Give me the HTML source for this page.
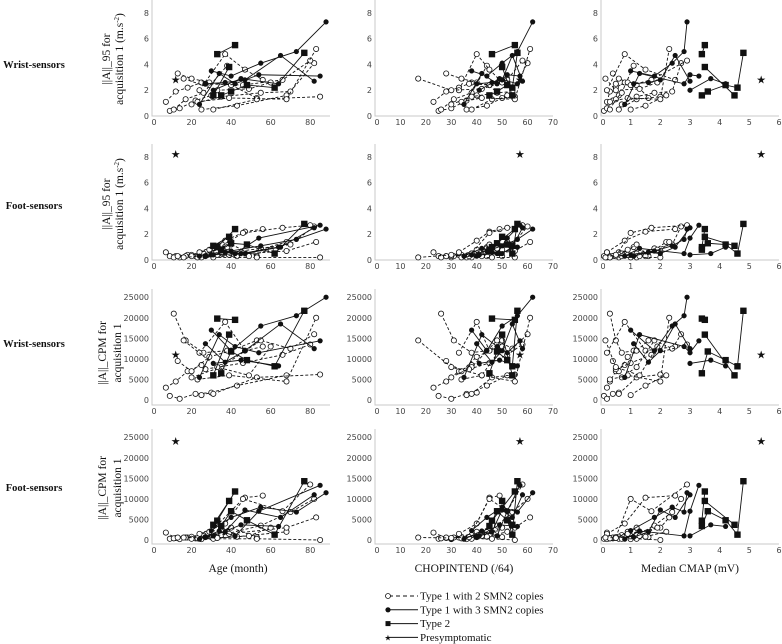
<!DOCTYPE html>
<html><head><meta charset="utf-8"><style>
body{margin:0;background:#fff;width:782px;height:644px;overflow:hidden}
svg{display:block}
.tk{font-family:"DejaVu Sans","Liberation Sans",sans-serif;font-size:8px;fill:#444}
.ser{font-family:"Liberation Serif",serif;fill:#111}
</style></head><body>
<svg id="c" width="782" height="644" viewBox="0 0 782 644" xmlns="http://www.w3.org/2000/svg"></svg>
<script>
// ---- data: one record per patient, visits in order ----
const types=['t1a','t1a','t1a','t1a','t1a','t1a','t1a','t1a','t1a','t1a','t1a','t1b','t1b','t1b','t1b','t2','t2','t2','pre'];
const age=[[7,12,18,25],[9,14,22,30],[11,17,26,38],[13,20,29,40,53],[24,37,47,56],[25,43,68],[31,53,85],[20,35,55,70,82],[27,46,66,80],[23,39,68,83],[16,33,49,60],
[30,40,55,73,88],[27,37,47,65,82],[24,34,42,54,85],[31,45,64],[33,42],[39,31],[35,40,48,62,77],[12]];
const chop=[[23,28,33,38],[25,30,36,40],[26,31,38,44],[28,34,40,45,50],[33,40,45,49],[36,44,52],[38,46,55],[30,38,48,54,60],[37,45,52,58],[34,42,55,61],[17,30,42,50],
[38,44,50,56,62],[40,46,50,54,58],[35,42,48,52,57],[41,49,56],[46,55],[50,54],[45,48,52,54,56],[57]];
const cmap=[[0.2,0.3,0.5,0.8],[0.1,0.2,0.4,0.6],[0.3,0.5,0.7,1.1],[0.4,0.6,0.9,1.2,1.6],[0.2,0.8,1.5,2.5],[1.0,1.5,2.2],[0.6,1.2,2.0],[0.7,1.2,1.8,2.4,2.7],[0.5,1.0,1.7,2.9],[0.3,0.9,2.0,2.3],[0.15,0.5,1.3,1.9],
[1.0,1.8,2.4,2.8,2.9],[1.1,1.6,2.0,2.5,3.0],[0.8,1.3,2.8,3.0,3.3],[3.0,3.7,4.2],[3.4,3.5],[3.5,4.5],[3.4,3.6,4.2,4.6,4.8],[5.4]];
const wrist95=[[1.1,1.9,2.2,2.6],[0.4,0.6,1.2,1.6],[0.5,1.3,1.8,3.9],[3.3,2.9,2.6,2.4,1.4],[2.0,4.8,3.6,2.8],[0.5,0.8,1.6],[0.5,1.3,1.5],[0.9,1.5,1.8,1.9,4.1],[2.5,2.4,2.8,4.3],[1.1,1.4,1.3,5.2],[2.9,2.0,2.1,2.6],
[3.5,3.1,4.1,5.0,7.3],[2.5,2.6,2.8,4.7,2.7],[0.9,3.3,2.5,3.2,3.1],[2.0,2.9,2.5],[4.8,5.5],[3.8,1.6],[1.6,1.9,2.4,2.2,4.9],[2.8]];
const foot95=[[0.6,0.3,0.4,0.5],[0.3,0.2,0.3,0.6],[0.2,0.3,0.5,1.0],[0.3,0.4,0.8,1.2,0.3],[0.6,1.5,2.2,2.4],[0.2,0.3,1.4],[0.2,0.2,0.2],[0.3,0.5,0.9,1.2,2.6],[0.3,2.1,2.5,2.7],[0.2,0.4,0.7,1.4],[0.2,0.4,0.3,0.8],
[0.4,0.7,1.1,1.6,2.4],[0.3,0.6,0.5,1.0,2.5],[0.3,0.9,0.5,1.7,2.7],[0.4,0.5,1.0],[1.0,2.4],[1.8,1.1],[0.8,1.3,1.2,0.5,2.8],[8.2]];
const wristCPM=[[3000,4500,7000,8500],[1000,300,1500,1800],[21000,14500,11500,12000],[9500,7000,10500,12000,14500],[11500,19000,12000,13000],[1200,3500,6000],[1500,5500,6200],[5500,8000,14500,12500,16000],[7500,9000,11000,13500],[5000,6000,4500,20000],[14500,8000,6000,13000],
[17000,12000,18000,20500,25000],[13700,9200,12000,18500,12500],[5500,15900,13000,11500,14400],[8900,9700,8300],[19800,19500],[15900,6000],[6500,11800,9700,8200,21700],[11000]];
const footCPM=[[1800,500,600,800],[300,200,400,700],[400,600,1200,2000],[600,800,2000,3000,700],[1500,4000,10300,10800],[200,800,2000],[300,300,0],[300,1200,3500,6800,10000],[700,10000,7000,13500],[400,1500,3000,5500],[600,500,1000,3000],
[2300,5500,8000,6800,11500],[700,2000,7300,5500,11000],[200,2200,1000,7000,13300],[1000,3700,3300],[4700,11800],[9500,3700],[3400,7000,4800,1300,14300],[24000]];
const xTicksAge=[0,20,40,60,80], xTicksChop=[0,10,20,30,40,50,60,70], xTicksCmap=[0,1,2,3,4,5,6];
const yTicksA=[0,2,4,6,8], yTicksC=[0,5000,10000,15000,20000,25000];

const S=document.getElementById('c'), NS='http://www.w3.org/2000/svg';
function el(t,a,p){const e=document.createElementNS(NS,t);for(const k in a)e.setAttribute(k,a[k]);(p||S).appendChild(e);return e;}
const cols=[{x:age,ticks:xTicksAge,x0:152,x1:330,min:0,max:90,name:'age'},
 {x:chop,ticks:xTicksChop,x0:375,x1:553,min:0,max:70,name:'chopintend'},
 {x:cmap,ticks:xTicksCmap,x0:601,x1:779,min:0,max:6,name:'cmap'}];
const rows=[{y:wrist95,ticks:yTicksA,zero:116,top:0,min:0,max:9,name:'wrist-95'},
 {y:foot95,ticks:yTicksA,zero:260,top:144,min:0,max:9,name:'foot-95'},
 {y:wristCPM,ticks:yTicksC,zero:400,top:289,min:0,max:27000,bot:405,name:'wrist-cpm'},
 {y:footCPM,ticks:yTicksC,zero:540,top:429,min:0,max:27000,bot:544,name:'foot-cpm'}];
rows.forEach((r,ri)=>{cols.forEach((c,ci)=>{
 const g=el('g',{});
 
 
 const X=v=>c.x0+(v-c.min)/(c.max-c.min)*(c.x1-c.x0);
 const Y=v=>r.zero-(v-r.min)/(r.max-r.min)*(r.zero-r.top);
 const bot=r.bot||r.zero;
 const ax=el('path',{d:`M${c.x0} ${r.top}V${bot}H${c.x1}`,fill:'none',stroke:'#c8c8c8','stroke-width':1},g);
  
 r.ticks.forEach(t=>{const tx=el('text',{x:c.x0-3,y:Y(t)+3,'text-anchor':'end',class:'tk'},g);tx.textContent=t;
  });
 c.ticks.forEach(t=>{const tx=el('text',{x:X(t)+(t===0?2:0),y:bot+9,'text-anchor':'middle',class:'tk'},g);tx.textContent=t;
  });
 for(let p=0;p<types.length;p++){
  const xs=c.x[p], ys=r.y[p], ty=types[p];
  const pts=xs.map((v,i)=>[X(v),Y(ys[i])]);
  if(pts.length>1){const ln=el('polyline',{points:pts.map(q=>q.join(',')).join(' '),fill:'none',stroke:'#111','stroke-width':0.9,'stroke-dasharray':ty==='t1a'?'3,2':'none'},g);
   }
  pts.forEach(q=>{let m;
   if(ty==='t1a')m=el('circle',{cx:q[0],cy:q[1],r:2.6,fill:'#fff',stroke:'#111','stroke-width':0.8},g);
   else if(ty==='t1b')m=el('circle',{cx:q[0],cy:q[1],r:2.6,fill:'#111'},g);
   else if(ty==='t2')m=el('rect',{x:q[0]-3.2,y:q[1]-3.2,width:6.4,height:6.4,fill:'#111'},g);
   else{m=el('text',{x:q[0],y:q[1]+3.5,'text-anchor':'middle','font-size':11,fill:'#111'},g);m.textContent='★';}
   });
 }
});});
// y-axis titles
[['||A||_95 for','acquisition 1 (m.s',true,59,110,123],['||A||_95 for','acquisition 1 (m.s',true,204,110,123],['||A||_CPM for','acquisition 1',false,353,106,121],['||A||_CPM for','acquisition 1',false,488,106,121]].forEach((t,i)=>{
 const g=el('g',{transform:`translate(0,${t[3]}) rotate(-90)`});
 
 const a=el('text',{x:0,y:t[4],'text-anchor':'middle','font-size':11.5,class:'ser'},g);a.textContent=t[0];
 const b=el('text',{x:0,y:t[5],'text-anchor':'middle','font-size':11.5,class:'ser'},g);b.textContent=t[1];
 if(t[2]){const s=el('tspan',{dy:-4,'font-size':7},b);s.textContent='-2';const s2=el('tspan',{dy:4},b);s2.textContent=')';}
});
[['Wrist-sensors',68],['Foot-sensors',209],['Wrist-sensors',347],['Foot-sensors',491]].forEach(t=>{
 const tx=el('text',{x:34,y:t[1],'text-anchor':'middle','font-size':10.5,'font-weight':'bold',class:'ser'});tx.textContent=t[0];
 });
[['Age (month)',238],['CHOPINTEND (/64)',464],['Median CMAP (mV)',690]].forEach(t=>{
 const tx=el('text',{x:t[1],y:572,'text-anchor':'middle','font-size':11.5,class:'ser'});tx.textContent=t[0];
 });
// legend
const lg=el('g',{});
[['t1a','Type 1 with 2 SMN2 copies'],['t1b','Type 1 with 3 SMN2 copies'],['t2','Type 2'],['pre','Presymptomatic']].forEach((t,i)=>{
 const y=596+i*13.8;
 const e=el('g',{},lg);
 el('line',{x1:389,y1:y,x2:418,y2:y,stroke:'#111','stroke-width':1,'stroke-dasharray':t[0]==='t1a'?'4,3':'none'},e);
 if(t[0]==='t1a')el('circle',{cx:388,cy:y,r:2.5,fill:'#fff',stroke:'#111','stroke-width':0.8},e);
 else if(t[0]==='t1b')el('circle',{cx:388,cy:y,r:2.6,fill:'#111'},e);
 else if(t[0]==='t2')el('rect',{x:385.5,y:y-2.5,width:5,height:5,fill:'#111'},e);
 else{const s=el('text',{x:388,y:y+3,'text-anchor':'middle','font-size':8,fill:'#111'},e);s.textContent='★';}
 const tx=el('text',{x:420,y:y+3.5,'font-size':11,class:'ser'},e);tx.textContent=t[1];
});
</script>
</body></html>
